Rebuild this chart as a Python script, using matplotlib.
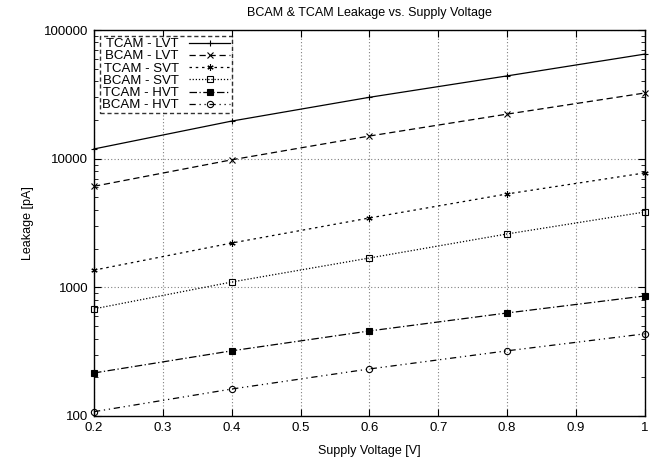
import matplotlib
matplotlib.use("Agg")
import matplotlib.pyplot as plt
from matplotlib.ticker import LogLocator, FixedLocator

plt.rcParams['font.family'] = ['Liberation Sans', 'DejaVu Sans']

voltage = [0.2, 0.4, 0.6, 0.8, 1.0]

tcam_lvt = [11900, 19600, 30000, 44000, 65000]
bcam_lvt = [6100, 9800, 15000, 22200, 32400]
tcam_svt = [1360, 2210, 3460, 5320, 7750]
bcam_svt = [680, 1100, 1690, 2600, 3850]
tcam_hvt = [216, 321, 458, 632, 857]
bcam_hvt = [108, 162, 232, 321, 435]

series = [
    ("TCAM - LVT", tcam_lvt, "-", "+", "black"),
    ("BCAM - LVT", bcam_lvt, (0, (5, 3)), "x", "black"),
    ("TCAM - SVT", tcam_svt, (0, (2, 3)), (6, 2, 0), "black"),
    ("BCAM - SVT", bcam_svt, (0, (1, 1.5)), "s", "none"),
    ("TCAM - HVT", tcam_hvt, (0, (6, 2, 1, 2)), "s", "black"),
    ("BCAM - HVT", bcam_hvt, (0, (5, 3, 1, 3, 1, 3)), "o", "none"),
]

fig = plt.figure(figsize=(6.62, 4.62), dpi=100)
ax = fig.add_axes([0.142, 0.0996, 0.832, 0.8354])

for label, vals, ls, mk, fc in series:
    ax.plot(voltage, vals, linestyle=ls, color="black", linewidth=0.9,
            marker=mk, markersize=4.5, markerfacecolor=fc,
            markeredgecolor="black", markeredgewidth=0.8, label=label,
            clip_on=False)

ax.set_yscale("log")
ax.set_xlim(0.2, 1.0)
ax.set_ylim(100, 100000)
ax.xaxis.set_major_locator(FixedLocator([0.2, 0.3, 0.4, 0.5, 0.6, 0.7, 0.8, 0.9, 1.0]))
ax.set_xticklabels(["0.2", "0.3", "0.4", "0.5", "0.6", "0.7", "0.8", "0.9", "1"])
ax.yaxis.set_major_locator(FixedLocator([100, 1000, 10000, 100000]))
ax.set_yticklabels(["100", "1000", "10000", "100000"])
ax.yaxis.set_minor_locator(LogLocator(base=10, subs=range(2, 10)))
ax.yaxis.set_minor_formatter(plt.NullFormatter())

ax.tick_params(which="both", direction="in", top=True, right=True, labelsize=9.5)
ax.tick_params(which="major", length=5, width=0.8, pad=4)
ax.tick_params(which="minor", length=3, width=0.6)
for s in ax.spines.values():
    s.set_linewidth(1.0)

ax.grid(True, which="major", linestyle=(0, (1, 2)), color="gray", linewidth=0.8)

ax.set_xlabel("Supply Voltage [V]", fontsize=9, labelpad=8)
ax.set_ylabel("Leakage [pA]", fontsize=9, labelpad=7)
ax.set_title("BCAM & TCAM Leakage vs. Supply Voltage", fontsize=9, pad=10)

leg = ax.legend(loc="upper left", fontsize=9.5, markerfirst=False, frameon=True,
                fancybox=False, borderpad=0.15, labelspacing=0.0,
                handlelength=3.1, handletextpad=0.8, borderaxespad=0.45)
leg.get_frame().set_edgecolor("black")
leg.get_frame().set_linestyle((0, (3, 2)))
leg.get_frame().set_linewidth(1.0)

fig.savefig("out.png", dpi=100)
